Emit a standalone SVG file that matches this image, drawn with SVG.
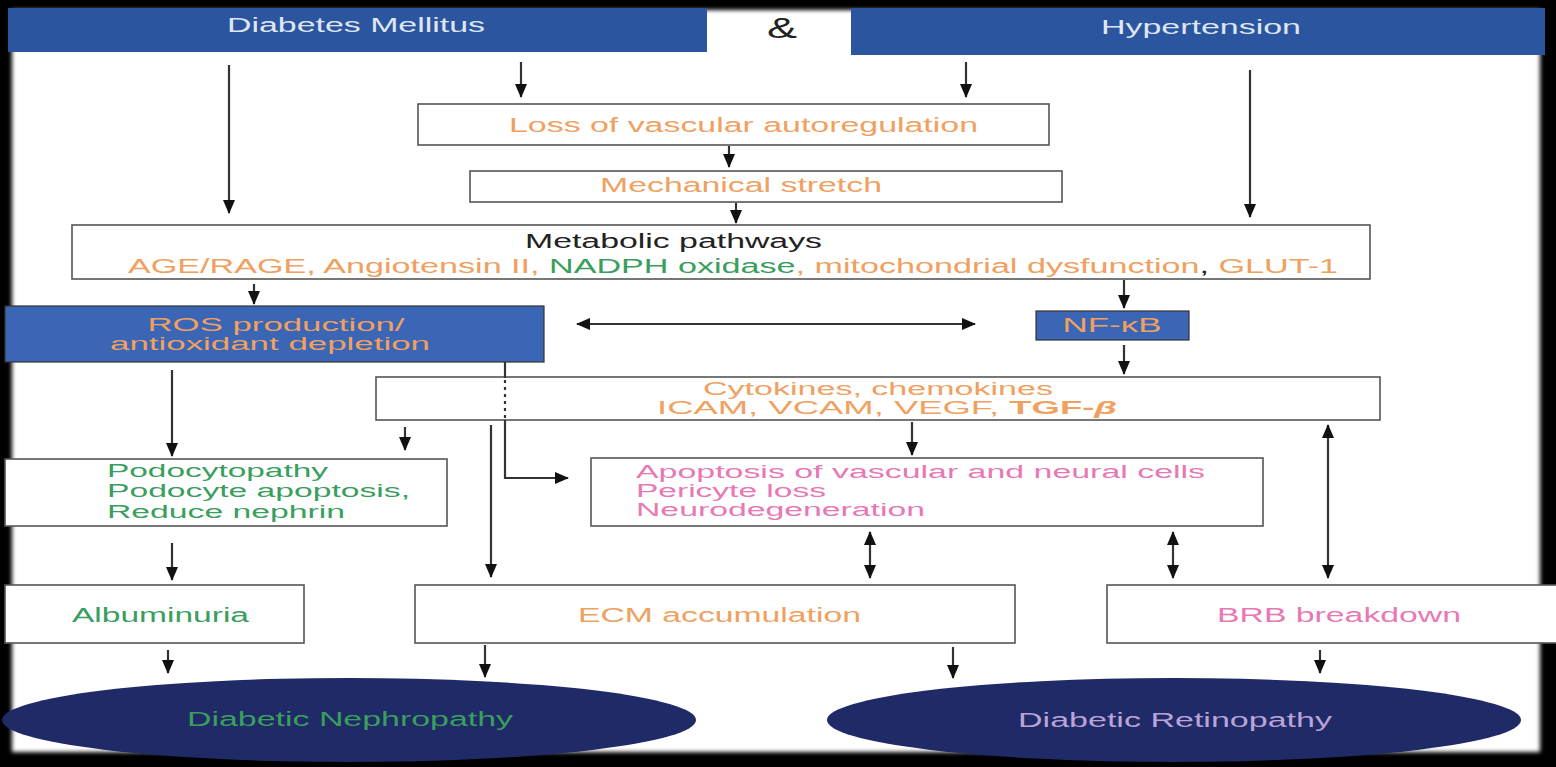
<svg xmlns="http://www.w3.org/2000/svg" width="1556" height="767" viewBox="0 0 1556 767">
<defs>
<marker id="ah" viewBox="0 0 14 12" refX="13" refY="6" markerWidth="14" markerHeight="12" markerUnits="userSpaceOnUse" orient="auto-start-reverse">
<path d="M0,0 L14,6 L0,12 z" fill="#111"/>
</marker>
<filter id="soft" x="-5%" y="-5%" width="110%" height="110%"><feGaussianBlur stdDeviation="2"/></filter>
<style>
text{font-family:"Liberation Sans",Arial,sans-serif;font-size:19.5px;}
.sm{font-size:18px;}
.box{fill:#fff;stroke:#555;stroke-width:1.6;}
.blue{fill:#3a66b5;stroke:#333;stroke-width:1.2;}
.bar{fill:#2b569f;}
.ln{stroke:#333;stroke-width:2.2;fill:none;}
.a{marker-end:url(#ah);}
.d{marker-start:url(#ah);marker-end:url(#ah);}
.or{fill:#f0a060;}
.gr{fill:#3a9e5e;}
.pk{fill:#e878b4;}
.lt{fill:#dfe6f2;}
.dk{fill:#222;}
text.amp{font-size:30px;}
</style>
</defs>
<rect x="0" y="0" width="1556" height="767" fill="#000"/>
<rect x="12" y="10" width="1528" height="742" fill="#fff" filter="url(#soft)"/>

<g id="diabetes">
<rect class="bar" x="8" y="8" width="699" height="44"/>
<text class="lt" x="356" y="32" text-anchor="middle" textLength="258" lengthAdjust="spacingAndGlyphs">Diabetes Mellitus</text>
</g>
<g id="amp">
<text class="dk amp" x="782" y="38" text-anchor="middle" textLength="30" lengthAdjust="spacingAndGlyphs">&amp;</text>
</g>
<g id="hypertension">
<rect class="bar" x="851" y="8" width="694" height="47"/>
<text class="lt" x="1201" y="34" text-anchor="middle" textLength="200" lengthAdjust="spacingAndGlyphs">Hypertension</text>
</g>

<g id="loss">
<rect class="box" x="418" y="104" width="631" height="41"/>
<text class="or" x="509" y="132" textLength="469" lengthAdjust="spacingAndGlyphs">Loss of vascular autoregulation</text>
</g>
<g id="stretch">
<rect class="box" x="470" y="171" width="592" height="31"/>
<text class="or" x="600" y="192" textLength="282" lengthAdjust="spacingAndGlyphs">Mechanical stretch</text>
</g>
<g id="metabolic">
<rect class="box" x="72" y="225" width="1298" height="54"/>
<text class="dk" x="525" y="248" textLength="297" lengthAdjust="spacingAndGlyphs">Metabolic pathways</text>
<text x="128" y="273" textLength="1210" lengthAdjust="spacingAndGlyphs"><tspan class="or">AGE/RAGE, Angiotensin II, </tspan><tspan class="gr">NADPH oxidase</tspan><tspan class="or">, mitochondrial dysfunction</tspan><tspan class="dk">, </tspan><tspan class="or">GLUT-1</tspan></text>
</g>
<g id="ros">
<rect class="blue" x="5" y="306" width="539" height="56"/>
<text class="or sm" x="276" y="331" text-anchor="middle" textLength="257" lengthAdjust="spacingAndGlyphs">ROS production/</text>
<text class="or sm" x="270" y="350" text-anchor="middle" textLength="320" lengthAdjust="spacingAndGlyphs">antioxidant depletion</text>
</g>
<g id="nfkb">
<rect class="blue" x="1036" y="311" width="153" height="29"/>
<text class="or" x="1112" y="332" text-anchor="middle" textLength="99" lengthAdjust="spacingAndGlyphs">NF-κB</text>
</g>
<g id="cytokines">
<rect class="box" x="376" y="377" width="1004" height="43"/>
<text class="or sm" x="878" y="395" text-anchor="middle" textLength="350" lengthAdjust="spacingAndGlyphs">Cytokines, chemokines</text>
<text class="or sm" x="887" y="414" text-anchor="middle" textLength="460" lengthAdjust="spacingAndGlyphs">ICAM, VCAM, VEGF, <tspan font-weight="bold" style="font-weight:bold">TGF-<tspan font-style="italic" style="font-style:italic">β</tspan></tspan></text>
</g>
<g id="podocyte">
<rect class="box" x="5" y="459" width="442" height="67"/>
<text class="gr sm" x="107" y="477" textLength="221" lengthAdjust="spacingAndGlyphs">Podocytopathy</text>
<text class="gr sm" x="107" y="497" textLength="303" lengthAdjust="spacingAndGlyphs">Podocyte apoptosis,</text>
<text class="gr sm" x="107" y="518" textLength="238" lengthAdjust="spacingAndGlyphs">Reduce nephrin</text>
</g>
<g id="apoptosis">
<rect class="box" x="591" y="458" width="672" height="68"/>
<text class="pk sm" x="636" y="478" textLength="569" lengthAdjust="spacingAndGlyphs">Apoptosis of vascular and neural cells</text>
<text class="pk sm" x="636" y="497" textLength="190" lengthAdjust="spacingAndGlyphs">Pericyte loss</text>
<text class="pk sm" x="636" y="516" textLength="289" lengthAdjust="spacingAndGlyphs">Neurodegeneration</text>
</g>
<g id="albuminuria">
<rect class="box" x="5" y="585" width="299" height="58"/>
<text class="gr" x="72" y="622" textLength="177" lengthAdjust="spacingAndGlyphs">Albuminuria</text>
</g>
<g id="ecm">
<rect class="box" x="415" y="585" width="600" height="58"/>
<text class="or" x="578" y="622" textLength="283" lengthAdjust="spacingAndGlyphs">ECM accumulation</text>
</g>
<g id="brb">
<rect class="box" x="1107" y="585" width="460" height="58"/>
<text class="pk" x="1217" y="622" textLength="244" lengthAdjust="spacingAndGlyphs">BRB breakdown</text>
</g>
<g id="nephropathy">
<ellipse cx="349" cy="720" rx="347" ry="42" fill="#1f2a66"/>
<text class="gr" x="187" y="726" textLength="326" lengthAdjust="spacingAndGlyphs">Diabetic Nephropathy</text>
</g>
<g id="retinopathy">
<ellipse cx="1174" cy="720" rx="347" ry="42" fill="#1f2a66"/>
<text x="1018" y="727" fill="#b9a3da" textLength="314" lengthAdjust="spacingAndGlyphs">Diabetic Retinopathy</text>
</g>

<g id="connectors">
<line class="ln a" x1="229" y1="65" x2="229" y2="213"/>
<line class="ln a" x1="521" y1="62" x2="521" y2="97"/>
<line class="ln a" x1="966" y1="62" x2="966" y2="97"/>
<line class="ln a" x1="1250" y1="70" x2="1250" y2="217"/>
<line class="ln a" x1="729" y1="146" x2="729" y2="167"/>
<line class="ln a" x1="736" y1="203" x2="736" y2="223"/>
<line class="ln a" x1="254" y1="284" x2="254" y2="304"/>
<line class="ln a" x1="1124" y1="280" x2="1124" y2="308"/>
<line class="ln d" x1="577" y1="324" x2="975" y2="324"/>
<line class="ln a" x1="1124" y1="345" x2="1124" y2="374"/>
<line class="ln a" x1="172" y1="370" x2="172" y2="456"/>
<line class="ln a" x1="405" y1="427" x2="405" y2="450"/>
<line class="ln a" x1="491" y1="425" x2="491" y2="577"/>
<line class="ln" x1="505" y1="362" x2="505" y2="378"/>
<line class="ln" x1="505" y1="380" x2="505" y2="418" stroke-dasharray="3,4"/>
<polyline class="ln a" points="505,420 505,478 568,478"/>
<line class="ln a" x1="912" y1="422" x2="912" y2="455"/>
<line class="ln d" x1="1328" y1="425" x2="1328" y2="578"/>
<line class="ln d" x1="870" y1="532" x2="870" y2="578"/>
<line class="ln d" x1="1173" y1="532" x2="1173" y2="578"/>
<line class="ln a" x1="172" y1="543" x2="172" y2="580"/>
<line class="ln a" x1="168" y1="650" x2="168" y2="673"/>
<line class="ln a" x1="485" y1="645" x2="485" y2="677"/>
<line class="ln a" x1="953" y1="647" x2="953" y2="678"/>
<line class="ln a" x1="1320" y1="650" x2="1320" y2="673"/>
</g>
</svg>
